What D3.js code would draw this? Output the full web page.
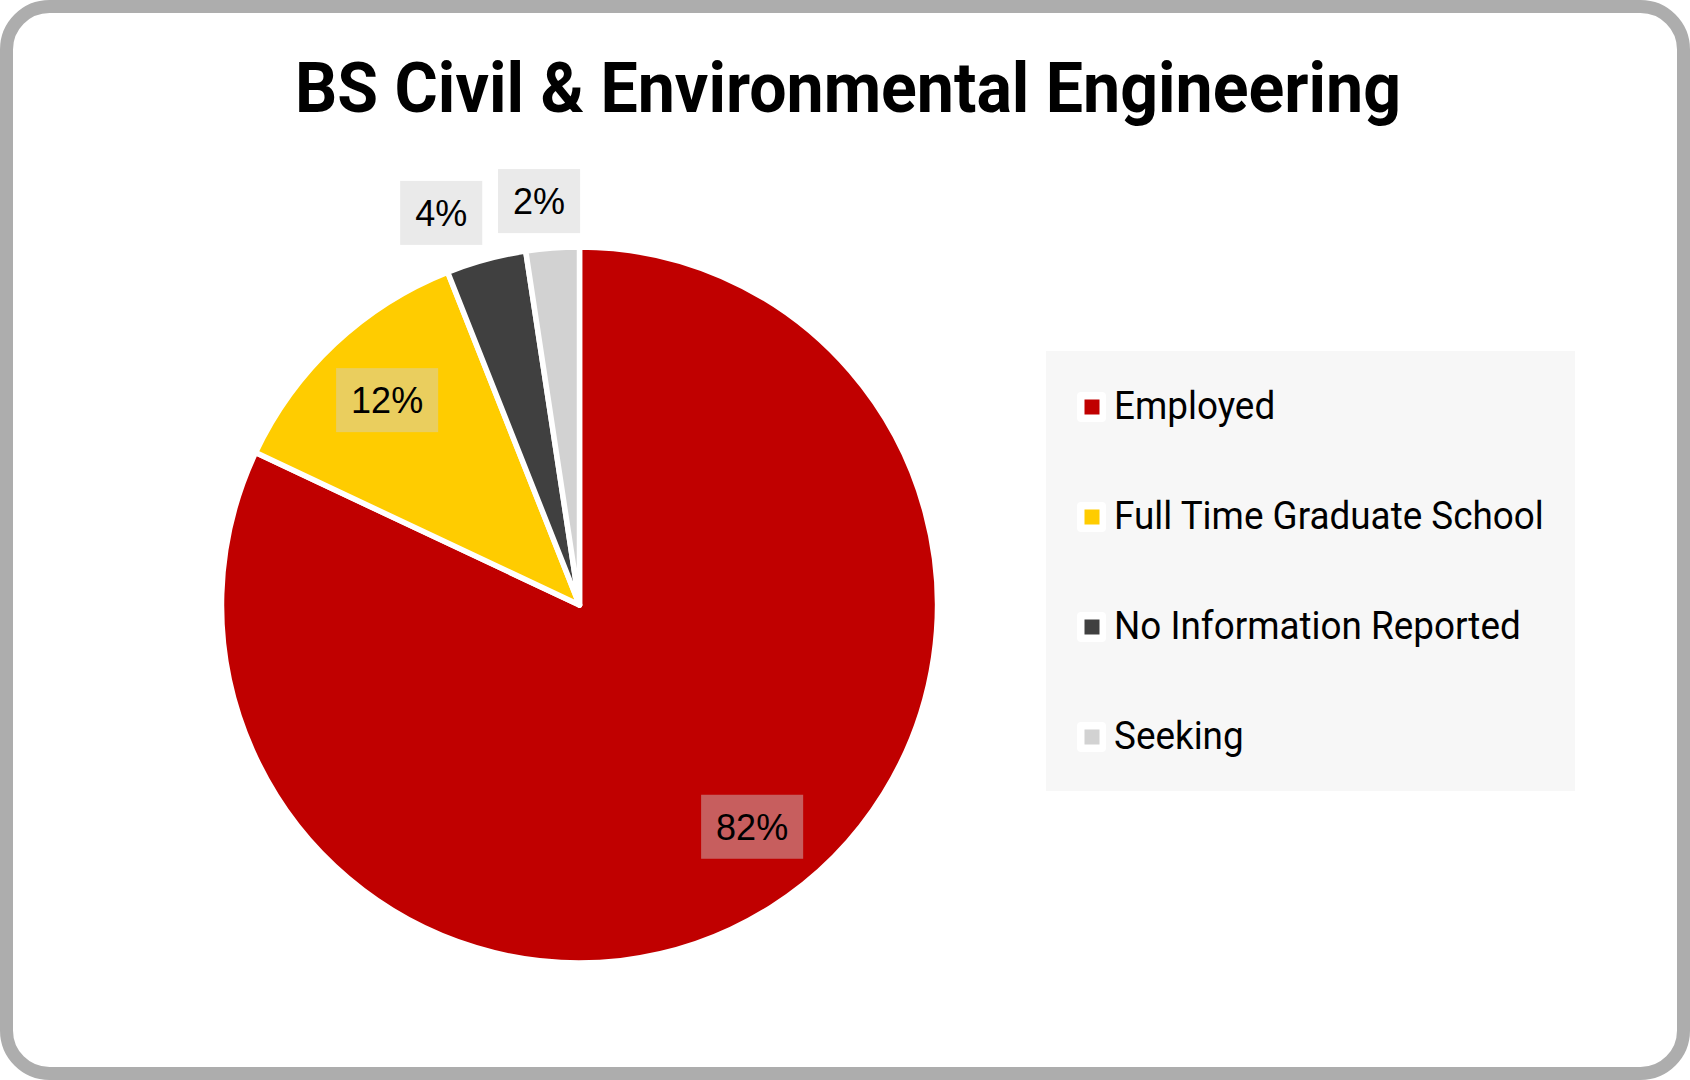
<!DOCTYPE html>
<html>
<head>
<meta charset="utf-8">
<script src="https://cdn.jsdelivr.net/npm/d3@7"></script>
<style>
  body { margin: 0; background: #ffffff; }
  svg { display: block; }
</style>
</head>
<body>
<div id="chart"></div>
<script>
// data
var chartTitle = "BS Civil & Environmental Engineering";
var categories = ["Employed", "Full Time Graduate School", "No Information Reported", "Seeking"];
var shares = [82.0, 12.0, 3.6, 2.4];
var sliceColors = ["#C00000", "#FFCC00", "#404040", "#D2D2D2"];

var width = 1690;
var height = 1080;
var cx = 579.5, cy = 605, radius = 358; // white outline eats ~3px of the rim

var data = categories.map(function (c, i) {
    return { title: c, value: shares[i] };
});
var total = d3.sum(shares);
var fmt = d3.format(".0%");

var color = d3.scaleOrdinal()
    .domain(categories)
    .range(sliceColors);

var svg = d3.select("#chart")
    .append("svg")
    .attr("width", width)
    .attr("height", height);

// rounded frame
svg.append("rect")
    .attr("x", 6.5).attr("y", 6.5)
    .attr("width", width - 13).attr("height", height - 13)
    .attr("rx", 43).attr("ry", 43)
    .attr("fill", "#ffffff")
    .attr("stroke", "#ADADAD")
    .attr("stroke-width", 13);

// title
svg.append("text")
    .attr("x", 848)
    .attr("y", 111.5)
    .attr("text-anchor", "middle")
    .attr("font-family", "Roboto, 'Liberation Sans', sans-serif")
    .attr("font-weight", 700)
    .attr("font-size", 70)
    .attr("fill", "#000000")
    .attr("textLength", 1106)
    .attr("lengthAdjust", "spacingAndGlyphs")
    .text(chartTitle);

var pie = d3.pie()
    .value(function (d) { return d.value; })
    .sort(null);

var arc = d3.arc()
    .innerRadius(0)
    .outerRadius(radius);

var g = svg.append("g")
    .attr("transform", "translate(" + cx + "," + cy + ")");

var arcs = pie(data);

g.selectAll("path")
    .data(arcs)
    .enter()
    .append("path")
    .attr("d", arc)
    .attr("fill", function (d) { return color(d.data.title); })
    .attr("stroke", "#ffffff")
    .attr("stroke-width", 5.5)
    .attr("stroke-linejoin", "round");

// data labels: inside for big slices, outside end for small ones
function clamp(v) { return Math.max(-1, Math.min(1, v)); }

var labels = g.selectAll(".lbl")
    .data(arcs)
    .enter()
    .append("g")
    .attr("class", "lbl");

labels.append("rect");
labels.append("text")
    .attr("text-anchor", "middle")
    .attr("dy", "0.37em")
    .attr("font-family", "'Liberation Sans', Arial, sans-serif")
    .attr("font-size", 36)
    .attr("fill", "#000000")
    .text(function (d) { return fmt(d.value / total); });

labels.each(function (d) {
    var lab = d3.select(this);
    var tw = lab.select("text").node().getComputedTextLength();
    var w = tw + 30, h = 64;
    var mid = (d.startAngle + d.endAngle) / 2;
    var share = d.value / total;
    var x, y;
    if (share >= 0.05) {
        // very large slices get their label pulled a bit toward the slice start
        var a = share > 0.5 ? mid - (share - 0.5) * 0.3 : mid;
        x = Math.sin(a) * radius * 0.785;
        y = -Math.cos(a) * radius * 0.785;
    } else {
        var ax = Math.sin(mid) * (radius + 15);
        var ay = -Math.cos(mid) * (radius + 15);
        x = ax + clamp(4 * Math.sin(mid)) * w / 2;
        y = ay + clamp(-4 * Math.cos(mid)) * h / 2;
    }
    lab.attr("transform", "translate(" + x + "," + y + ")");
    lab.select("rect")
        .attr("x", -w / 2).attr("y", -h / 2)
        .attr("width", w).attr("height", h)
        .attr("fill", "#D0D0D0")
        .attr("fill-opacity", 0.45);
});

// legend
var legend = svg.append("g")
    .attr("transform", "translate(1046,351)");

legend.append("rect")
    .attr("width", 529)
    .attr("height", 440)
    .attr("fill", "#F7F7F7");

var rowH = 110;
var item = legend.selectAll(".legend")
    .data(color.domain())
    .enter()
    .append("g")
    .attr("class", "legend")
    .attr("transform", function (d, i) {
        return "translate(0," + (i * rowH) + ")";
    });

item.append("rect")
    .attr("x", 31).attr("y", 41)
    .attr("width", 29).attr("height", 30)
    .attr("rx", 4)
    .attr("fill", "#ffffff");
item.append("rect")
    .attr("x", 38.5).attr("y", 48.5)
    .attr("width", 15).attr("height", 15)
    .style("fill", color);

var legendText = item.append("text")
    .attr("font-family", "Roboto, 'Liberation Sans', sans-serif")
    .attr("font-size", 38)
    .attr("fill", "#000000")
    .text(function (d) { return d; });

// squeeze the legend font to the narrow look of the original
var widest = d3.max(legendText.nodes(), function (n) { return n.getComputedTextLength(); });
var k = 430 / widest;
legendText.attr("transform", "translate(68,68) scale(" + k + ",1)");
</script>
</body>
</html>
